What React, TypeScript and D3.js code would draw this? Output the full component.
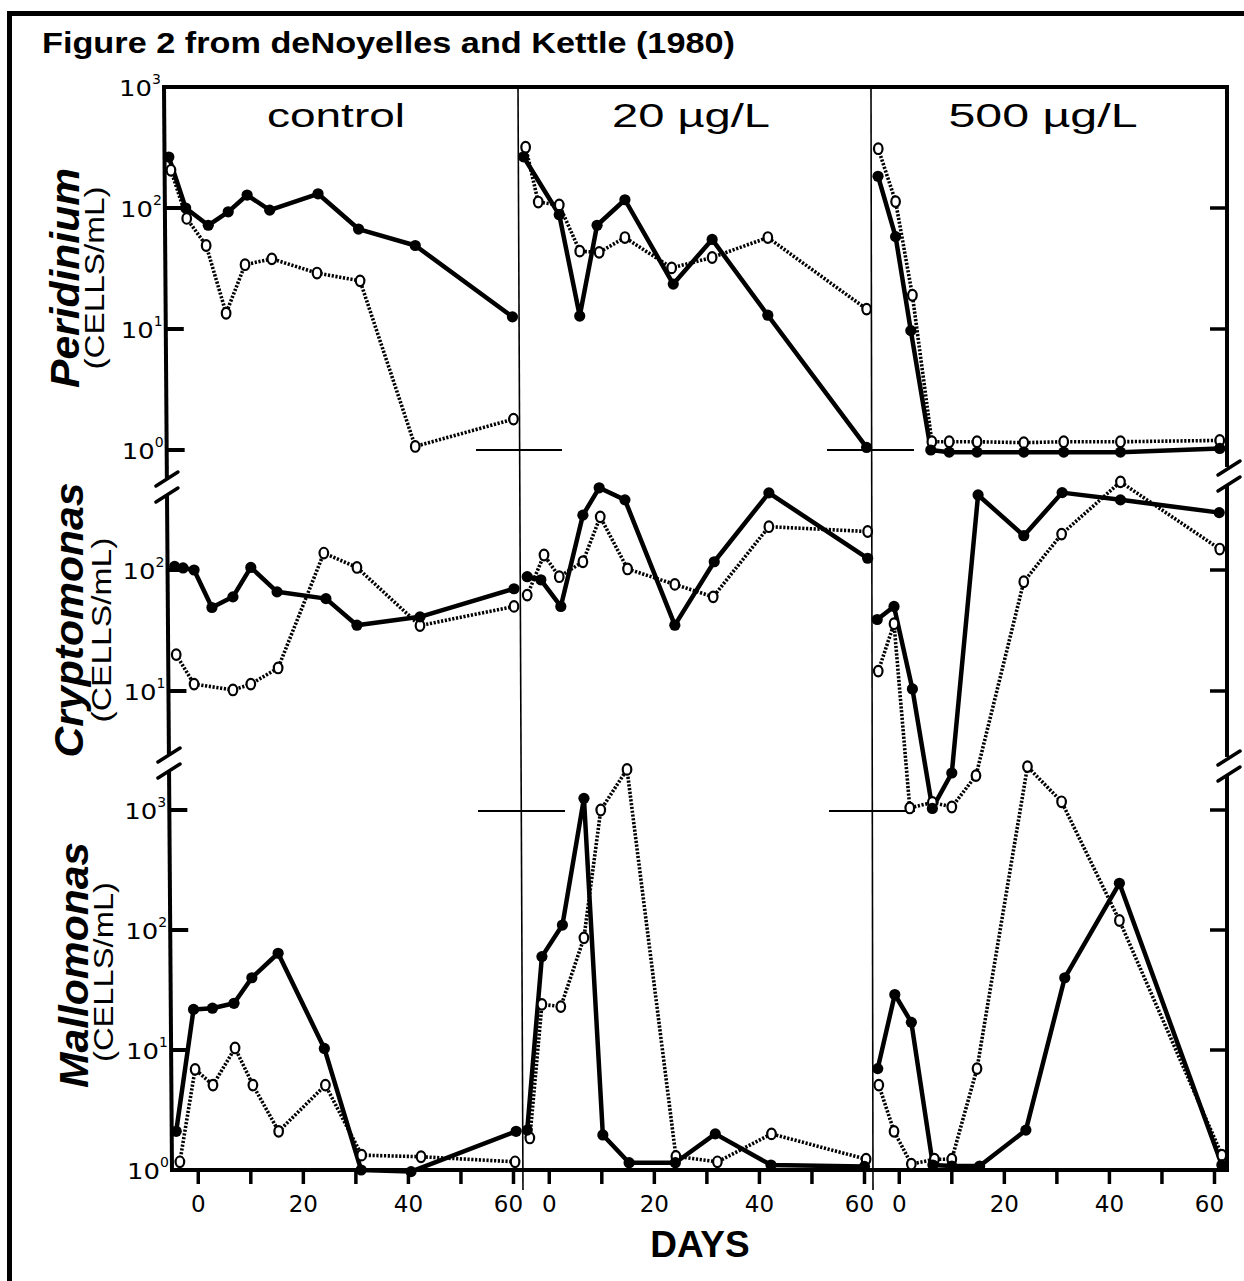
import React from 'react';
import * as d3 from 'd3';

type Pt = [number, number]; // [day, cells per mL]

// ---------- categories / labels ----------
const PANEL_LABELS = ['control', '20 µg/L', '500 µg/L'];
const ROW_LABELS = ['Peridinium', 'Cryptomonas', 'Mallomonas'];
const UNIT_LABEL = '(CELLS/mL)';
const X_TICKS = [0, 10, 20, 30, 40, 50, 60];
const X_TICK_LABELS = [0, 20, 40, 60];
const LEFT_TICKS_BY_ROW = [[1000, 100, 10, 1], [100, 10], [1000, 100, 10, 1]];
const RIGHT_TICKS_BY_ROW = [[100, 10], [100, 10], [1000, 100, 10]];

// ---------- Peridinium ----------
const perCtrlFilled: Pt[] = [[-5.6, 264], [-2.4, 100], [1.9, 72], [5.7, 93], [9.3, 128], [13.6, 96], [22.8, 131], [30.5, 67], [41.3, 49], [59.8, 12.6]];
const perCtrlOpen: Pt[] = [[-5.2, 205], [-2.2, 82], [1.5, 49], [5.3, 13.5], [8.9, 34], [14.0, 38], [22.6, 29], [30.8, 25], [41.3, 1.07], [60.0, 1.8]];
const per20Filled: Pt[] = [[-4.9, 265], [1.9, 88], [5.8, 12.8], [9.1, 72], [14.4, 117], [23.6, 23.5], [31.0, 55], [41.6, 13], [60.4, 1.05]];
const per20Open: Pt[] = [[-4.5, 318], [-2.1, 112], [1.9, 106], [5.8, 44], [9.5, 43], [14.4, 57], [23.3, 32], [31.0, 39], [41.6, 57], [60.4, 14.6]];
const per500Filled: Pt[] = [[-4.05, 183], [-0.7, 58], [2.2, 9.7], [6.0, 1.0], [9.5, 0.96], [14.8, 0.96], [23.7, 0.96], [31.3, 0.96], [42.1, 0.96], [61.0, 1.03]];
const per500Open: Pt[] = [[-4.0, 309], [-0.7, 113], [2.5, 19], [6.2, 1.17], [9.5, 1.17], [14.8, 1.17], [23.7, 1.15], [31.3, 1.17], [42.1, 1.17], [61.0, 1.2]];

// ---------- Cryptomonas ----------
const cryCtrlFilled: Pt[] = [[-4.5, 107], [-2.9, 104], [-0.8, 100], [2.6, 49], [6.6, 60], [10.0, 105], [15.0, 66], [24.3, 58], [30.2, 35], [42.2, 41], [60.1, 70]];
const cryCtrlOpen: Pt[] = [[-4.2, 20], [-0.8, 11.4], [6.6, 10.2], [10.0, 11.4], [15.2, 15.5], [23.9, 138], [30.2, 105], [42.2, 34.7], [60.1, 50]];
const cry20Filled: Pt[] = [[-4.2, 88], [-1.6, 83], [2.2, 50], [6.4, 284], [9.5, 478], [14.4, 380], [23.9, 35], [31.4, 117], [41.8, 434], [60.6, 125]];
const cry20Open: Pt[] = [[-4.2, 62], [-1.0, 133], [1.9, 88], [6.4, 117], [9.7, 275], [14.9, 102], [23.9, 76], [31.2, 60], [41.8, 228], [60.6, 208]];
const cry500Filled: Pt[] = [[-4.2, 39], [-1.0, 50], [2.5, 10.4], [6.3, 1.07], [10.0, 2.1], [15.0, 417], [23.7, 192], [31.0, 436], [42.1, 380], [60.9, 298]];
const cry500Open: Pt[] = [[-4.0, 14.6], [-1.0, 36], [2.0, 1.08], [6.3, 1.2], [10.0, 1.1], [14.6, 2.0], [23.7, 80], [30.9, 198], [42.1, 535], [61.0, 149]];

// ---------- Mallomonas ----------
const malCtrlFilled: Pt[] = [[-4.2, 2.1], [-0.9, 21.8], [2.7, 22.3], [6.8, 24.5], [10.2, 40], [15.2, 64], [24.0, 10.3], [31.0, 1.0], [40.5, 0.97], [60.5, 2.1]];
const malCtrlOpen: Pt[] = [[-3.5, 1.17], [-0.6, 6.9], [2.8, 5.1], [7.0, 10.4], [10.4, 5.1], [15.3, 2.1], [24.2, 5.1], [31.1, 1.33], [42.4, 1.29], [60.3, 1.17]];
const mal20Filled: Pt[] = [[-4.2, 2.15], [-1.4, 60], [2.5, 110], [6.6, 1250], [10.2, 1.96], [15.2, 1.15], [24.0, 1.15], [31.6, 2.0], [42.2, 1.1], [60.0, 1.07]];
const mal20Open: Pt[] = [[-3.7, 1.85], [-1.4, 24], [2.2, 23], [6.6, 86], [9.8, 1000], [14.8, 2180], [24.1, 1.3], [32.0, 1.17], [42.3, 2.0], [60.3, 1.23]];
const mal500Filled: Pt[] = [[-4.1, 7.0], [-0.85, 29], [2.3, 17], [6.4, 1.1], [10.0, 1.08], [15.3, 1.08], [24.1, 2.15], [31.5, 40], [41.9, 245], [61.4, 1.1]];
const mal500Open: Pt[] = [[-3.9, 5.1], [-1.0, 2.1], [2.3, 1.12], [6.7, 1.23], [10.0, 1.23], [14.8, 7.0], [24.4, 2300], [30.9, 1170], [41.9, 120], [61.4, 1.33]];

const SERIES = [
  { row: 0, panel: 0, filled: perCtrlFilled, open: perCtrlOpen },
  { row: 0, panel: 1, filled: per20Filled, open: per20Open },
  { row: 0, panel: 2, filled: per500Filled, open: per500Open },
  { row: 1, panel: 0, filled: cryCtrlFilled, open: cryCtrlOpen },
  { row: 1, panel: 1, filled: cry20Filled, open: cry20Open },
  { row: 1, panel: 2, filled: cry500Filled, open: cry500Open },
  { row: 2, panel: 0, filled: malCtrlFilled, open: malCtrlOpen },
  { row: 2, panel: 1, filled: mal20Filled, open: mal20Open },
  { row: 2, panel: 2, filled: mal500Filled, open: mal500Open },
];

// ---------- layout ----------
const W = 1244;
const H = 1281;
const TOP = 87;
const BOTTOM = 1170;
const RIGHT = 1227;
const PANEL_LEFTS = [172, 523, 873];
const PANEL_W = 352;
const FONT_SANS = "'Liberation Sans', Arial, Helvetica, sans-serif";
const FONT_TICK = "'DejaVu Sans', 'Liberation Sans', sans-serif";

const xScales = PANEL_LEFTS.map((l) => d3.scaleLinear().domain([-5, 62]).range([l, l + PANEL_W]));
const yScales = [
  d3.scaleLog().domain([1, 1000]).range([450, 87]),
  d3.scaleLog().domain([1, 1000]).range([812, 449]),
  d3.scaleLog().domain([1, 1000]).range([1170, 810]),
];

const leftAxisX = (y: number) => 164 + ((y - TOP) * 8) / (1172 - TOP);

const supMap: Record<number, string> = { 1: '0', 10: '1', 100: '2', 1000: '3' };

function Break({ x, c }: { x: number; c: number }) {
  return (
    <g stroke="#000" strokeWidth={3.5} strokeLinecap="round">
      <line x1={x - 11} y1={c - 1} x2={x + 11} y2={c - 15} />
      <line x1={x - 11} y1={c + 15} x2={x + 11} y2={c + 1} />
    </g>
  );
}

export default function App() {
  const lineGen = (xs: d3.ScaleLinear<number, number>, ys: d3.ScaleLogarithmic<number, number>) =>
    d3.line<Pt>().x((d) => xs(d[0])).y((d) => ys(d[1]));

  const leftBreaks = [487, 763];
  const rightBreaks = [476, 766];

  const leftSegs: [number, number][] = [[TOP - 2, leftBreaks[0] - 9], [leftBreaks[0] + 9, leftBreaks[1] - 9], [leftBreaks[1] + 9, BOTTOM + 2]];
  const rightSegs: [number, number][] = [[TOP - 2, rightBreaks[0] - 9], [rightBreaks[0] + 9, rightBreaks[1] - 9], [rightBreaks[1] + 9, BOTTOM + 2]];

  return (
    <div style={{ position: 'absolute', left: 0, top: 0 }}>
      <svg width={W} height={H} viewBox={`0 0 ${W} ${H}`} style={{ display: 'block', background: '#fff' }}>
        <rect x={0} y={0} width={W} height={H} fill="#fff" />
        {/* outer frame (top + left visible) */}
        <line x1={7} y1={13.5} x2={W} y2={13.5} stroke="#000" strokeWidth={5} />
        <line x1={9.5} y1={11} x2={9.5} y2={H} stroke="#000" strokeWidth={5} />

        <text x={42} y={53} fontFamily={FONT_SANS} fontWeight="bold" fontSize={30} textLength={693} lengthAdjust="spacingAndGlyphs">
          Figure 2 from deNoyelles and Kettle (1980)
        </text>

        {/* panel separators */}
        <line x1={518} y1={TOP} x2={523} y2={1190} stroke="#000" strokeWidth={1.6} />
        <line x1={871} y1={TOP} x2={873} y2={1190} stroke="#000" strokeWidth={1.6} />
        {[
          [476, 562, 450], [827, 914, 450], [478, 565, 811], [829, 915, 811],
        ].map(([a, b, y], i) => (
          <line key={'cm' + i} x1={a} y1={y} x2={b} y2={y} stroke="#000" strokeWidth={1.8} />
        ))}

        {/* frame: top, right, bottom, left */}
        <line x1={163} y1={TOP} x2={RIGHT + 2} y2={TOP} stroke="#000" strokeWidth={4} />
        <line x1={leftAxisX(BOTTOM)} y1={BOTTOM} x2={RIGHT + 2} y2={BOTTOM} stroke="#000" strokeWidth={4} />
        {leftSegs.map(([a, b], i) => (
          <line key={'ls' + i} x1={leftAxisX(a)} y1={a} x2={leftAxisX(b)} y2={b} stroke="#000" strokeWidth={4} />
        ))}
        {rightSegs.map(([a, b], i) => (
          <line key={'rs' + i} x1={RIGHT} y1={a} x2={RIGHT} y2={b} stroke="#000" strokeWidth={4} />
        ))}
        {leftBreaks.map((c, i) => <Break key={'lb' + i} x={leftAxisX(c)} c={c} />)}
        {rightBreaks.map((c, i) => <Break key={'rb' + i} x={RIGHT + 2} c={c} />)}

        {/* left ticks + labels */}
        {LEFT_TICKS_BY_ROW.map((ticks, r) =>
          ticks.map((t) => {
            const y = yScales[r](t);
            const ax = leftAxisX(y);
            const isCorner = r === 0 && t === 1000;
            const isBottom = r === 2 && t === 1;
            return (
              <g key={`lt${r}-${t}`}>
                {!isCorner && !isBottom && <line x1={ax} y1={y} x2={ax + 18} y2={y} stroke="#000" strokeWidth={4} />}
                <text x={ax - 12} y={y + 9} textAnchor="end" fontFamily={FONT_TICK} fontSize={21} textLength={33} lengthAdjust="spacingAndGlyphs">10</text>
                <text x={ax - 12} y={y - 3} fontFamily={FONT_TICK} fontSize={14}>{supMap[t]}</text>
              </g>
            );
          })
        )}
        {/* right ticks */}
        {RIGHT_TICKS_BY_ROW.map((ticks, r) =>
          ticks.map((t) => {
            const y = yScales[r](t);
            return <line key={`rt${r}-${t}`} x1={RIGHT - 17} y1={y} x2={RIGHT} y2={y} stroke="#000" strokeWidth={3.5} />;
          })
        )}

        {/* x ticks & labels */}
        {xScales.map((xs, p) => (
          <g key={'xt' + p}>
            {X_TICKS.map((t) => (
              <line key={t} x1={xs(t)} y1={BOTTOM} x2={xs(t)} y2={BOTTOM + 14} stroke="#000" strokeWidth={3.5} />
            ))}
            {X_TICK_LABELS.map((t) => (
              <text key={'l' + t} x={xs(t) - (t === 60 ? 5 : 0)} y={1212} textAnchor="middle" fontFamily={FONT_TICK} fontSize={23}>
                {t}
              </text>
            ))}
          </g>
        ))}
        <text x={700} y={1257} textAnchor="middle" fontFamily={FONT_SANS} fontWeight="bold" fontSize={37}>DAYS</text>

        {/* panel labels */}
        {PANEL_LABELS.map((lab, i) => {
          const cx = [336, 691, 1043][i];
          const len = [138, 158, 189][i];
          return (
            <text key={lab} x={cx} y={127} textAnchor="middle" fontFamily={FONT_SANS} fontSize={34} textLength={len} lengthAdjust="spacingAndGlyphs">
              {lab}
            </text>
          );
        })}

        {/* row labels */}
        {ROW_LABELS.map((lab, i) => {
          const bx = [79, 83, 88][i];
          const cy = [278, 620, 965][i];
          const len = [220, 275, 246][i];
          const ux = [104, 111, 113][i];
          const ucy = [278, 630, 972][i];
          const ulen = [183, 185, 180][i];
          return (
            <g key={lab}>
              <text transform={`translate(${bx},${cy}) rotate(-90)`} textAnchor="middle" fontFamily={FONT_SANS} fontWeight="bold" fontStyle="italic" fontSize={40} textLength={len} lengthAdjust="spacingAndGlyphs">
                {lab}
              </text>
              <text transform={`translate(${ux},${ucy}) rotate(-90)`} textAnchor="middle" fontFamily={FONT_SANS} fontSize={27} textLength={ulen} lengthAdjust="spacingAndGlyphs">
                {UNIT_LABEL}
              </text>
            </g>
          );
        })}

        {/* data */}
        {SERIES.map((s, i) => {
          const xs = xScales[s.panel];
          const ys = yScales[s.row];
          const lg = lineGen(xs, ys);
          return (
            <g key={'s' + i}>
              <path d={lg(s.filled) || ''} fill="none" stroke="#000" strokeWidth={4.5} strokeLinejoin="round" />
              <path d={lg(s.open) || ''} fill="none" stroke="#000" strokeWidth={3.6} strokeDasharray="2.2,1.6" />
              {s.open.map((d, j) => (
                <ellipse key={'o' + j} cx={xs(d[0])} cy={ys(d[1])} rx={4.3} ry={5.3} fill="#fff" stroke="#000" strokeWidth={2.2} />
              ))}
              {s.filled.map((d, j) => (
                <circle key={'f' + j} cx={xs(d[0])} cy={ys(d[1])} r={5.6} fill="#000" />
              ))}
            </g>
          );
        })}
      </svg>
    </div>
  );
}
